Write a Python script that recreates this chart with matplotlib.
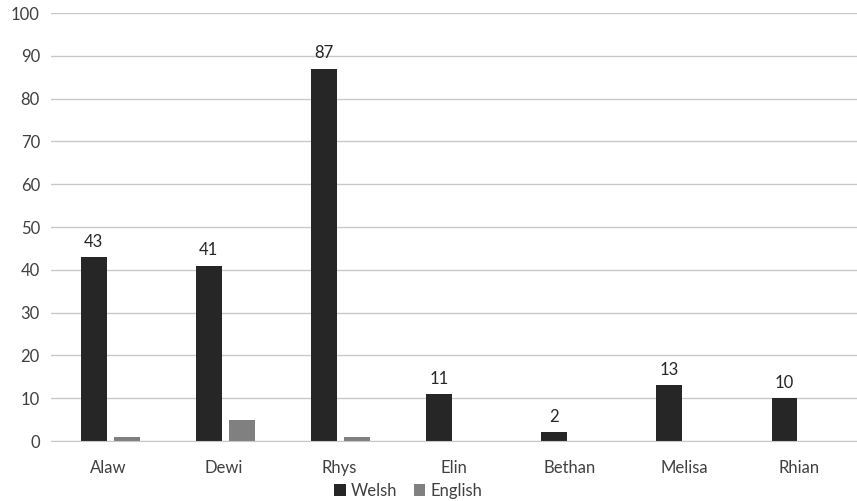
import numpy as np
import matplotlib.pyplot as plt

plt.rcParams['font.family'] = ['Lato', 'DejaVu Sans']

# Data
names = ['Alaw', 'Dewi', 'Rhys', 'Elin', 'Bethan', 'Melisa', 'Rhian']
welsh = [43, 41, 87, 11, 2, 13, 10]
english = [1, 5, 1, 0, 0, 0, 0]

fig = plt.figure(figsize=(8.57, 5.01), dpi=100)
ax = fig.add_axes([51/857, 60/501, 806/857, 428/501])

x = np.arange(len(names))
w = 0.225
b1 = ax.bar(x - 0.13, welsh, w, color='#262626', label='Welsh', zorder=3)
b2 = ax.bar(x + 0.16, english, w, color='#808080', label='English', zorder=3)

for xi, v in zip(x, welsh):
    ax.text(xi - 0.13, v + 1.7, str(v), ha='center', va='bottom', fontsize=12, color='#262626')

ax.set_xlim(-0.5, len(names) - 0.5)
ax.set_ylim(0, 100)
ax.set_yticks(range(0, 101, 10))
ax.set_xticks(x)
ax.set_xticklabels(names)
ax.tick_params(axis='both', length=0, labelsize=12, colors='#404040')
ax.tick_params(axis='x', pad=14)
ax.tick_params(axis='y', pad=8)
ax.yaxis.grid(True, color='#c8c8c8', linewidth=1, zorder=0)
for s in ['top', 'right', 'left']:
    ax.spines[s].set_visible(False)
ax.spines['bottom'].set_color('#c8c8c8')
ax.spines['bottom'].set_zorder(4)

ax.legend(loc='center', bbox_to_anchor=(0.443, -0.117), ncol=2, frameon=False,
          fontsize=12, handlelength=0.7, handleheight=0.7, handletextpad=0.3, columnspacing=1.0,
          labelcolor='#404040', borderpad=0)

plt.savefig('out.png', dpi=100)
